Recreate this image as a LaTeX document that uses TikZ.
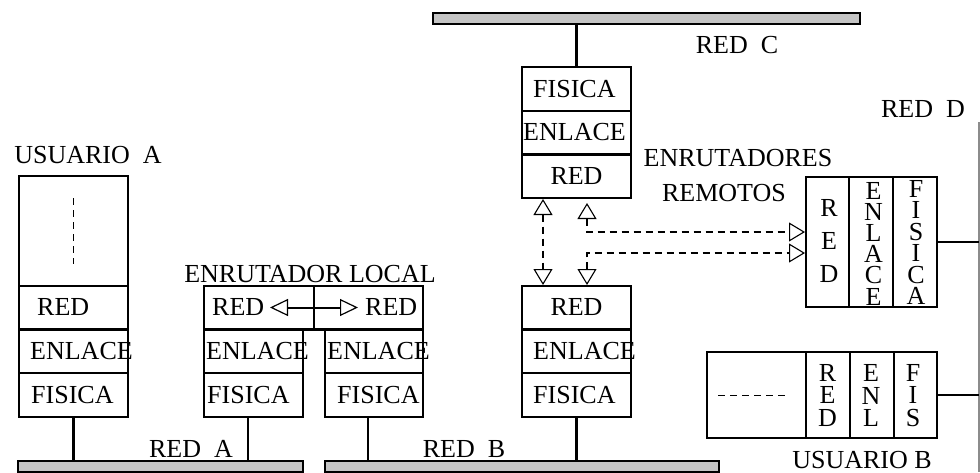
\documentclass[tikz,border=0pt]{standalone}
\usepackage{fontspec}
\setmainfont{Liberation Serif}
\usetikzlibrary{arrows.meta}
\definecolor{barcol}{RGB}{196,196,196}
\definecolor{redline}{RGB}{140,140,140}
\newcommand{\fsz}{\fontsize{26}{26}\selectfont}
\begin{document}
\begin{tikzpicture}[x=1pt,y=-1pt,
  cell/.style={draw, line width=2.7pt, inner sep=0pt, outer sep=0pt, anchor=north west},
  bar/.style={draw, line width=2.2pt, fill=barcol, inner sep=0pt, outer sep=0pt, anchor=north west, minimum height=11pt},
  link/.style={line width=2.5pt},
  lbl/.style={font=\fsz, inner sep=0pt, anchor=west},
  captxt/.style={font=\fsz, inner sep=0pt, anchor=base},
  vtxt/.style={inner sep=0pt, align=center},
  dsh/.style={line width=1.1pt, dash pattern=on 7pt off 5pt},
  otip/.style={{Triangle[open,length=16pt,width=19pt,line width=1.1pt]}-{Triangle[open,length=16pt,width=19pt,line width=1.1pt]}},
  ltip/.style={{Triangle[open,length=18pt,width=17pt,line width=1.2pt]}-{Triangle[open,length=18pt,width=17pt,line width=1.2pt]}}
]
\useasboundingbox (0,0) rectangle (980,472);

% ---------- bars ----------
\node[bar, minimum width=285] (barA) at (18,461) {};
\node[bar, minimum width=394] (barB) at (325,461) {};
\node[bar, minimum width=427] (barC) at (433,13) {};
\coordinate (dTop) at (979,122);
\coordinate (dBot) at (979,472);
\draw[redline, line width=1.5pt] (dTop) -- (dBot);

% ---------- USUARIO A ----------
\node[cell, minimum width=109, minimum height=110] (uaTop) at (19,176) {};
\node[cell, minimum width=109, minimum height=43.5] (uaRed) at (19,286) {};
\node[cell, minimum width=109, minimum height=43.5] (uaEnl) at (19,329.5) {};
\node[cell, minimum width=109, minimum height=44] (uaFis) at (19,373) {};
\draw[line width=1pt, dash pattern=on 7pt off 5pt] (73,198) -- (73,264);
\node[lbl] (uaRedT) at (37,307.5) {RED};
\node[lbl] (uaEnlT) at (30,351) {ENLACE};
\node[lbl] (uaFisT) at (31,395) {FISICA};
\node[captxt] (uaName) at (88,163) {USUARIO\ \ A};

% ---------- ENRUTADOR LOCAL ----------
\node[cell, minimum width=110, minimum height=43.5] (lrRedL) at (204,286) {};
\node[cell, minimum width=109, minimum height=43.5] (lrRedR) at (314,286) {};
\node[cell, minimum width=99, minimum height=43.5] (lrEnlL) at (204,329.5) {};
\node[cell, minimum width=99, minimum height=44] (lrFisL) at (204,373) {};
\node[cell, minimum width=98, minimum height=43.5] (lrEnlR) at (325,329.5) {};
\node[cell, minimum width=98, minimum height=44] (lrFisR) at (325,373) {};
\node[lbl] (lrRedLT) at (212,307.5) {RED};
\node[lbl] (lrRedRT) at (365,307.5) {RED};
\node[lbl] (lrEnlLT) at (206,351) {ENLACE};
\node[lbl] (lrEnlRT) at (327,351) {ENLACE};
\node[lbl] (lrFisLT) at (207,395) {FISICA};
\node[lbl] (lrFisRT) at (337,395) {FISICA};
\node[captxt] (lrName) at (310,282) {ENRUTADOR LOCAL};
\coordinate (lrArrL) at (270,307.5);
\coordinate (lrArrR) at (358,307.5);
\draw[line width=2pt, ltip] (lrArrL) -- (lrArrR);

% ---------- router B side ----------
\node[cell, minimum width=109, minimum height=43.5] (rbRed) at (522,286) {};
\node[cell, minimum width=109, minimum height=43.5] (rbEnl) at (522,329.5) {};
\node[cell, minimum width=109, minimum height=44] (rbFis) at (522,373) {};
\node[font=\fsz, inner sep=0pt] (rbRedT) at (576.5,307.5) {RED};
\node[lbl] (rbEnlT) at (533,351) {ENLACE};
\node[lbl] (rbFisT) at (533,395) {FISICA};

% ---------- router C side ----------
\node[cell, minimum width=109, minimum height=44] (rcFis) at (522,67) {};
\node[cell, minimum width=109, minimum height=43.5] (rcEnl) at (522,111) {};
\node[cell, minimum width=109, minimum height=43.5] (rcRed) at (522,154.5) {};
\node[lbl] (rcFisT) at (533,89) {FISICA};
\node[lbl] (rcEnlT) at (523,132.5) {ENLACE};
\node[font=\fsz, inner sep=0pt] (rcRedT) at (576.5,176) {RED};

% ---------- RED D router ----------
\node[cell, minimum width=43, minimum height=130] (dRed) at (806,177) {};
\node[cell, minimum width=44, minimum height=130] (dEnl) at (849,177) {};
\node[cell, minimum width=44, minimum height=130] (dFis) at (893,177) {};
\node[vtxt, font={\fontsize{26}{32.6}\selectfont}] (dRedT) at (829,241) {R\\E\\D};
\node[vtxt, font={\fontsize{26}{21.2}\selectfont}] (dEnlT) at (873.5,243.5) {E\\N\\L\\A\\C\\E};
\node[vtxt, font={\fontsize{26}{21.5}\selectfont}] (dFisT) at (916,242.5) {F\\I\\S\\I\\C\\A};

% ---------- USUARIO B ----------
\node[cell, minimum width=99, minimum height=86] (ubApp) at (707,352) {};
\node[cell, minimum width=44, minimum height=86] (ubRed) at (806,352) {};
\node[cell, minimum width=44, minimum height=86] (ubEnl) at (850,352) {};
\node[cell, minimum width=43, minimum height=86] (ubFis) at (894,352) {};
\draw[line width=1pt, dash pattern=on 7pt off 5pt] (718,395) -- (785,395);
\node[vtxt, font={\fontsize{26}{22.4}\selectfont}] (ubRedT) at (827.5,395.5) {R\\E\\D};
\node[vtxt, font={\fontsize{26}{22.4}\selectfont}] (ubEnlT) at (871,395.5) {E\\N\\L};
\node[vtxt, font={\fontsize{26}{22.4}\selectfont}] (ubFisT) at (913,395.5) {F\\I\\S};
\node[captxt] (ubName) at (862,468.5) {USUARIO B};

% ---------- texts ----------
\node[captxt] (redA) at (191,457) {RED\ \ A};
\node[captxt] (redB) at (464,457) {RED\ \ B};
\node[captxt] (redC) at (737,53) {RED\ \ C};
\node[captxt] (redD) at (923,117) {RED\ \ D};
\node[captxt] (enr) at (738,166) {ENRUTADORES};
\node[captxt] (rem) at (724,201) {REMOTOS};

% ---------- links to networks ----------
\draw[link] (uaFis.south) -- (uaFis.south |- barA.north);
\coordinate (lA) at ([xshift=44pt]lrFisL.south west);
\draw[link] (lA) -- (lA |- barA.north);
\coordinate (lB) at ([xshift=43pt]lrFisR.south west);
\draw[link] (lB) -- (lB |- barB.north);
\draw[link] (rbFis.south) -- (rbFis.south |- barB.north);
\draw[link] (rcFis.north) -- (rcFis.north |- barC.south);
\draw[link] (dFis.east) -- (dFis.east -| dTop);
\draw[link] (ubFis.east) -- (ubFis.east -| dTop);

% ---------- dashed remote links ----------
\coordinate (v1a) at ([xshift=21pt,yshift=-1pt]rcRed.south west);
\coordinate (v1b) at ([xshift=21pt,yshift=1pt]rbRed.north west);
\draw[dsh, otip] (v1a) -- (v1b);
\coordinate (v2a) at ([xshift=65pt,yshift=-5pt]rcRed.south west);
\coordinate (h2a) at ([yshift=10pt,xshift=-1pt]dRed.west);
\draw[dsh, otip] (v2a) |- (h2a);
\coordinate (v3a) at ([xshift=65pt,yshift=1pt]rbRed.north west);
\coordinate (h3a) at ([yshift=-11pt,xshift=-1pt]dRed.west);
\draw[dsh, otip] (v3a) |- (h3a);
\end{tikzpicture}
\end{document}
